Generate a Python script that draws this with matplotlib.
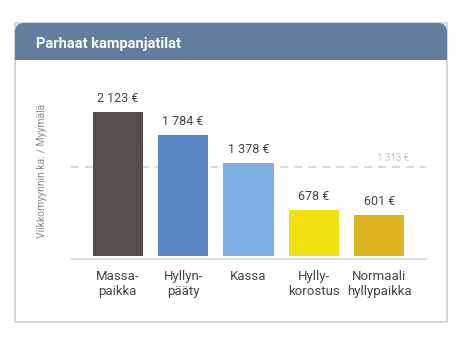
import matplotlib
matplotlib.use("Agg")
import matplotlib.pyplot as plt
from matplotlib.patches import FancyBboxPatch, Rectangle
from matplotlib.transforms import IdentityTransform

plt.rcParams['font.family'] = ['Roboto', 'DejaVu Sans']

kategoriat = ["Massa-\npaikka", "Hyllyn-\npääty", "Kassa", "Hylly-\nkorostus", "Normaali\nhyllypaikka"]
myynti = [2123, 1784, 1378, 678, 601]
arvo_tekstit = ["2 123 €", "1 784 €", "1 378 €", "678 €", "601 €"]
keskiarvo = 1313
keskiarvo_teksti = "1 313 €"
varit = ["#534f4d", "#5b87c5", "#7eb1e3", "#f2e010", "#dcb41f"]

W, H = 462, 338
fig = plt.figure(figsize=(W / 100, H / 100), dpi=100)

def px(x, y):
    # pikselit ylhäältä vasemmalta -> display-koordinaatit
    return x, H - y

# kortti
kx0, ky0, kx1, ky1 = 15, 23, 447, 322
idt = IdentityTransform()
fig.patches.append(Rectangle(px(kx0, ky1), kx1 - kx0, ky1 - ky0, transform=idt,
                             facecolor="white", edgecolor="#c9d1dc", lw=1.2, zorder=-3))
fig.patches.append(FancyBboxPatch(px(kx0, 60), kx1 - kx0, 60 - ky0, transform=idt,
                                  boxstyle="round,pad=0,rounding_size=9",
                                  facecolor="#637d9e", edgecolor="none", zorder=-2))
fig.patches.append(Rectangle(px(kx0, 60), kx1 - kx0, 12, transform=idt,
                             facecolor="#637d9e", edgecolor="none", zorder=-2))
fig.text(36 / W, 1 - 44 / H, "Parhaat kampanjatilat", color="white",
         fontsize=10.5, fontweight="bold", va="center", ha="left",
         family=['Liberation Sans Narrow', 'Roboto'])

# kuvaaja
ax_l, ax_r, ax_b, ax_t = 71, 426, 256, 80
ax = fig.add_axes([ax_l / W, 1 - ax_b / H, (ax_r - ax_l) / W, (ax_b - ax_t) / H])
ax.patch.set_visible(False)
x = range(len(kategoriat))
ax.bar(x, myynti, width=0.77, color=varit)
ax.set_xlim(-0.715, len(kategoriat) - 1 + 0.715)
ax.set_ylim(0, 2600)
ax.axhline(keskiarvo, color="#d9d9d9", lw=1.5, linestyle=(0, (3.8, 2.9)), zorder=0)
ax.text(len(kategoriat) - 1 + 0.45, keskiarvo + 60, keskiarvo_teksti, ha="right",
        va="bottom", fontsize=7, color="#c4c4c4")

for i, v in enumerate(myynti):
    ax.annotate(arvo_tekstit[i], (i, v), xytext=(0, 5), textcoords="offset points",
                ha="center", va="bottom", fontsize=9, color="#444444")

for s in ["top", "right", "left"]:
    ax.spines[s].set_visible(False)
ax.spines["bottom"].set_position(("outward", 2))
ax.spines["bottom"].set_color("#dddddd")
ax.spines["bottom"].set_linewidth(1.5)
ax.set_yticks([])
ax.set_xticks(list(x))
ax.set_xticklabels(kategoriat, fontsize=9.5, color="#444444", linespacing=1.2)
ax.tick_params(axis="x", length=0, pad=8)

fig.text(42 / W, 1 - 171 / H, "Viikkomyynnin ka. / Myymälä", rotation=90,
         ha="center", va="center", fontsize=7.5, color="#8a8a8a")

fig.savefig("out.png", dpi=100)
